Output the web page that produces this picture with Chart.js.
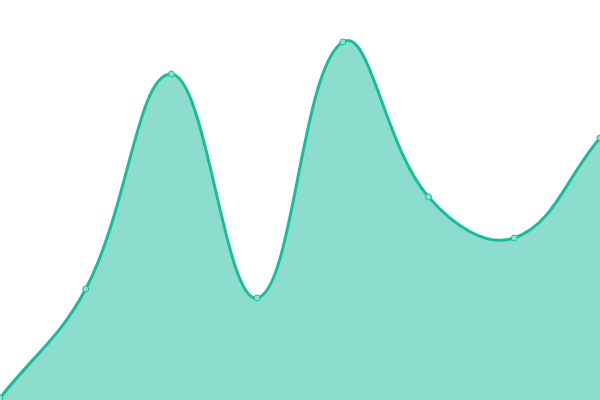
<!DOCTYPE html>
<html>
<head>
<meta charset="utf-8">
<script src="https://cdn.jsdelivr.net/npm/chart.js@4/dist/chart.umd.min.js"></script>
<style>
  html, body { margin: 0; padding: 0; background: #fff; overflow: hidden; }
  /* el lienzo sobresale un poco para que el área del gráfico llene la ventana */
  #wrap { position: absolute; left: -5px; top: -4px; width: 610px; height: 410px; }
</style>
</head>
<body>
<div id="wrap"><canvas id="areaChart"></canvas></div>
<script>
// datos
const labels = ['1', '2', '3', '4', '5', '6', '7', '8'];
const values = [3, 112, 327, 103, 359, 204, 163, 263];
const yMin = 0;
const yMax = 400;

document.addEventListener('DOMContentLoaded', function() {
    const canvas = document.getElementById('areaChart');

    new Chart(canvas, {
        type: 'line',
        data: {
            labels: labels,
            datasets: [{
                data: values,
                borderColor: '#1abc9c',
                backgroundColor: 'rgba(26, 188, 156, 0.5)',
                borderWidth: 3,
                fill: true,
                tension: 0.4,
                pointRadius: 3,
                pointBorderWidth: 1,
                pointBorderColor: '#1abc9c',
                pointBackgroundColor: '#8ce0cf'
            }]
        },
        options: {
            responsive: true,
            maintainAspectRatio: false,
            animation: false,
            layout: { padding: 0 },
            plugins: {
                legend: { display: false },
                tooltip: { enabled: false }
            },
            scales: {
                x: { display: false, offset: false },
                y: { display: false, min: yMin, max: yMax }
            }
        }
    });
});
</script>
</body>
</html>
